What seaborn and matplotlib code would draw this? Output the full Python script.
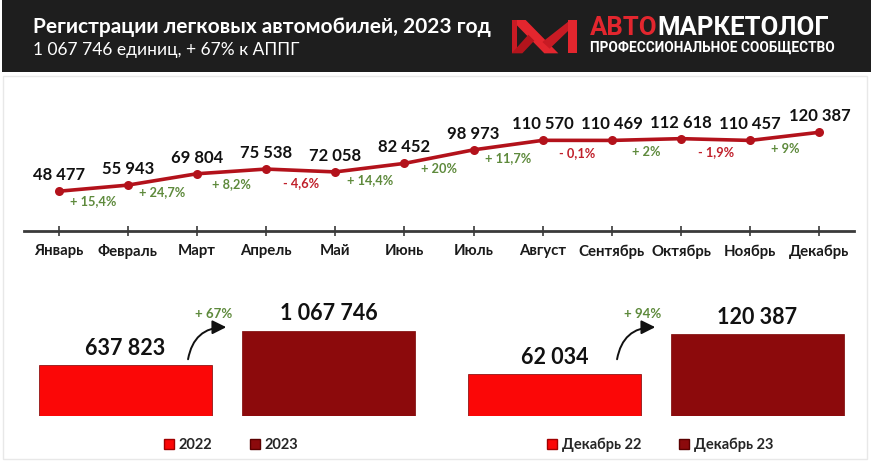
import matplotlib
matplotlib.use("Agg")
import matplotlib.pyplot as plt
from matplotlib.patches import Rectangle, Polygon, Patch
import seaborn as sns
import pandas as pd

# ---------------- data ----------------
months = ["Январь", "Февраль", "Март", "Апрель", "Май", "Июнь", "Июль",
          "Август", "Сентябрь", "Октябрь", "Ноябрь", "Декабрь"]
values_2023 = [48477, 55943, 69804, 75538, 72058, 82452, 98973,
               110570, 110469, 112618, 110457, 120387]
mom_change = ["+ 15,4%", "+ 24,7%", "+ 8,2%", "- 4,6%", "+ 14,4%", "+ 20%",
              "+ 11,7%", "- 0,1%", "+ 2%", "- 1,9%", "+ 9%"]

year_labels = ["2022", "2023"]
year_values = [637823, 1067746]
year_growth = "+ 67%"

dec_labels = ["Декабрь 22", "Декабрь 23"]
dec_values = [62034, 120387]
dec_growth = "+ 94%"

title = "Регистрации легковых автомобилей, 2023 год"
subtitle = "1 067 746 единиц, + 67% к АППГ"

# ---------------- style ----------------
sns.set_theme(style="white")
FONT = ["Lato", "Open Sans", "DejaVu Sans"]
plt.rcParams["font.family"] = FONT

W, H = 871, 461
fig = plt.figure(figsize=(W / 100, H / 100), dpi=100)
fig.patch.set_facecolor("white")

def fx(x):
    return x / W

def fy(y):
    return 1 - y / H

def fmt(v):
    return f"{v:,}".replace(",", " ")

LINE = "#b3121b"
GREEN = "#5e8a3c"
RED = "#c0202b"
C22 = "#fb0707"
C23 = "#8c0a0c"

# faint frame of the chart area
fig.patches.append(Rectangle((fx(3), fy(459)), (867 - 3) / W, (459 - 76) / H,
                             transform=fig.transFigure, facecolor="none",
                             edgecolor="#e8e8e8", linewidth=1, zorder=0))

# ---------------- header ----------------
fig.patches.append(Rectangle((fx(2), fy(72)), 1, 72 / H, transform=fig.transFigure,
                             facecolor="#1e1e1e", edgecolor="none", zorder=0))
fig.text(fx(33), fy(27), title, color="white", fontsize=15, fontweight="bold",
         va="center", ha="left")
fig.text(fx(33), fy(50), subtitle, color="white", fontsize=12.5, va="center", ha="left")

# logo icon (zoom coords -> pixels)
def lp(pts):
    return [(fx(505 + x / 3), fy(10 + y / 3)) for x, y in pts]

icon = [
    ([(20, 30), (62, 30), (160, 130), (118, 130)], "#e3262e"),
    ([(20, 30), (36, 30), (36, 130), (20, 130)], "#c81b24"),
    ([(20, 130), (52, 130), (88, 92), (70, 74)], "#b3141c"),
    ([(112, 96), (134, 116), (215, 38), (196, 30)], "#c81b24"),
    ([(190, 30), (216, 30), (216, 130), (190, 130)], "#e3262e"),
]
for pts, col in icon:
    fig.patches.append(Polygon(lp(pts), closed=True, transform=fig.transFigure,
                               facecolor=col, edgecolor="none", zorder=1))
logo_font = ["Roboto", "Open Sans", "DejaVu Sans"]
t1 = fig.text(fx(590), fy(28), "АВТО", color="#e3262e", fontsize=18.5,
              fontweight="bold", va="center", ha="left", family=logo_font)
fig.canvas.draw()
bb = t1.get_window_extent()
fig.text(bb.x1 / W, fy(28), "МАРКЕТОЛОГ", color="white", fontsize=18.5,
         fontweight="bold", va="center", ha="left", family=logo_font)
fig.text(fx(590), fy(48), "ПРОФЕССИОНАЛЬНОЕ СООБЩЕСТВО", color="white",
         fontsize=9.8, fontweight="bold", va="center", ha="left", family=logo_font)

# ---------------- monthly line ----------------
scale_line = 0.00082  # px per unit
ax = fig.add_axes([fx(24), fy(231), 830 / W, 136 / H])
df = pd.DataFrame({"month": months, "value": values_2023})
sns.lineplot(data=df, x="month", y="value", ax=ax, color=LINE, linewidth=2.6,
             marker="o", markersize=6.5, markeredgewidth=0, sort=False)
ax.set_xlim(-0.5, 11.5)
ax.set_ylim(0, 136 / scale_line)
ax.set_xlabel("")
ax.set_ylabel("")
ax.set_yticks([])
for s in ["left", "right", "top"]:
    ax.spines[s].set_visible(False)
ax.spines["bottom"].set_color("#3a3a3a")
ax.spines["bottom"].set_linewidth(2)
ax.set_xticks(range(len(months)))
ax.set_xticklabels(months, fontsize=10.8, fontweight="bold", color="#1a1a1a")
ax.tick_params(axis="x", direction="inout", length=7, width=1.2,
               color="#3a3a3a", pad=6, bottom=True)
ax.set_facecolor("none")

for i, v in enumerate(values_2023):
    ax.annotate(fmt(v), (i, v), xytext=(0, 11.5), textcoords="offset points",
                ha="center", va="center", fontsize=12, fontweight="bold",
                color="#111111")
for i, lab in enumerate(mom_change):
    mid = (values_2023[i] + values_2023[i + 1]) / 2
    col = RED if lab.startswith("-") else GREEN
    ax.annotate(lab, (i + 0.5, mid), xytext=(0, -9), textcoords="offset points",
                ha="center", va="center", fontsize=9.2, fontweight="bold",
                color=col)

# ---------------- bar panels ----------------
def bar_panel(left_px, labels, vals, scale, growth, legend_x):
    a = fig.add_axes([fx(left_px), fy(416), 406 / W, 120 / H])
    d = pd.DataFrame({"cat": labels, "val": vals})
    sns.barplot(data=d, x="cat", y="val", hue="cat", palette=[C22, C23],
                width=0.852, ax=a, legend=False, edgecolor="#7a0000",
                linewidth=0.5, saturation=1)
    a.set_xlim(-0.5, 1.5)
    a.set_ylim(0, 120 / scale)
    a.axis("off")
    for i, v in enumerate(vals):
        a.annotate(fmt(v), (i, v), xytext=(0, 12), textcoords="offset points",
                   ha="center", va="center", fontsize=15.5, fontweight="bold",
                   color="#111111")
    a.text(0.467, 0.85, growth, transform=a.transAxes, ha="center", va="center",
           fontsize=9.5, fontweight="bold", color=GREEN)
    a.annotate("", xy=(0.505, 0.74), xycoords="axes fraction",
               xytext=(0.403, 0.45), textcoords="axes fraction",
               arrowprops=dict(arrowstyle="-|>,head_length=0.7,head_width=0.35",
                               connectionstyle="arc3,rad=-0.45",
                               color="#111111", lw=1.4))
    handles = [Patch(facecolor=C22, edgecolor="#a00000"),
               Patch(facecolor=C23, edgecolor="#5a0000")]
    a.legend(handles, labels, loc="center", bbox_to_anchor=(legend_x, -0.24),
             ncol=2, frameon=False, handlelength=0.7, handleheight=0.7,
             handletextpad=0.3, columnspacing=2.6,
             prop={"size": 10.5, "weight": "bold", "family": FONT})
    return a

bar_panel(24, year_labels, year_values, 8.0e-5, year_growth, 0.51)
bar_panel(453, dec_labels, dec_values, 6.77e-4, dec_growth, 0.51)

fig.savefig("out.png", dpi=100, facecolor="white")
